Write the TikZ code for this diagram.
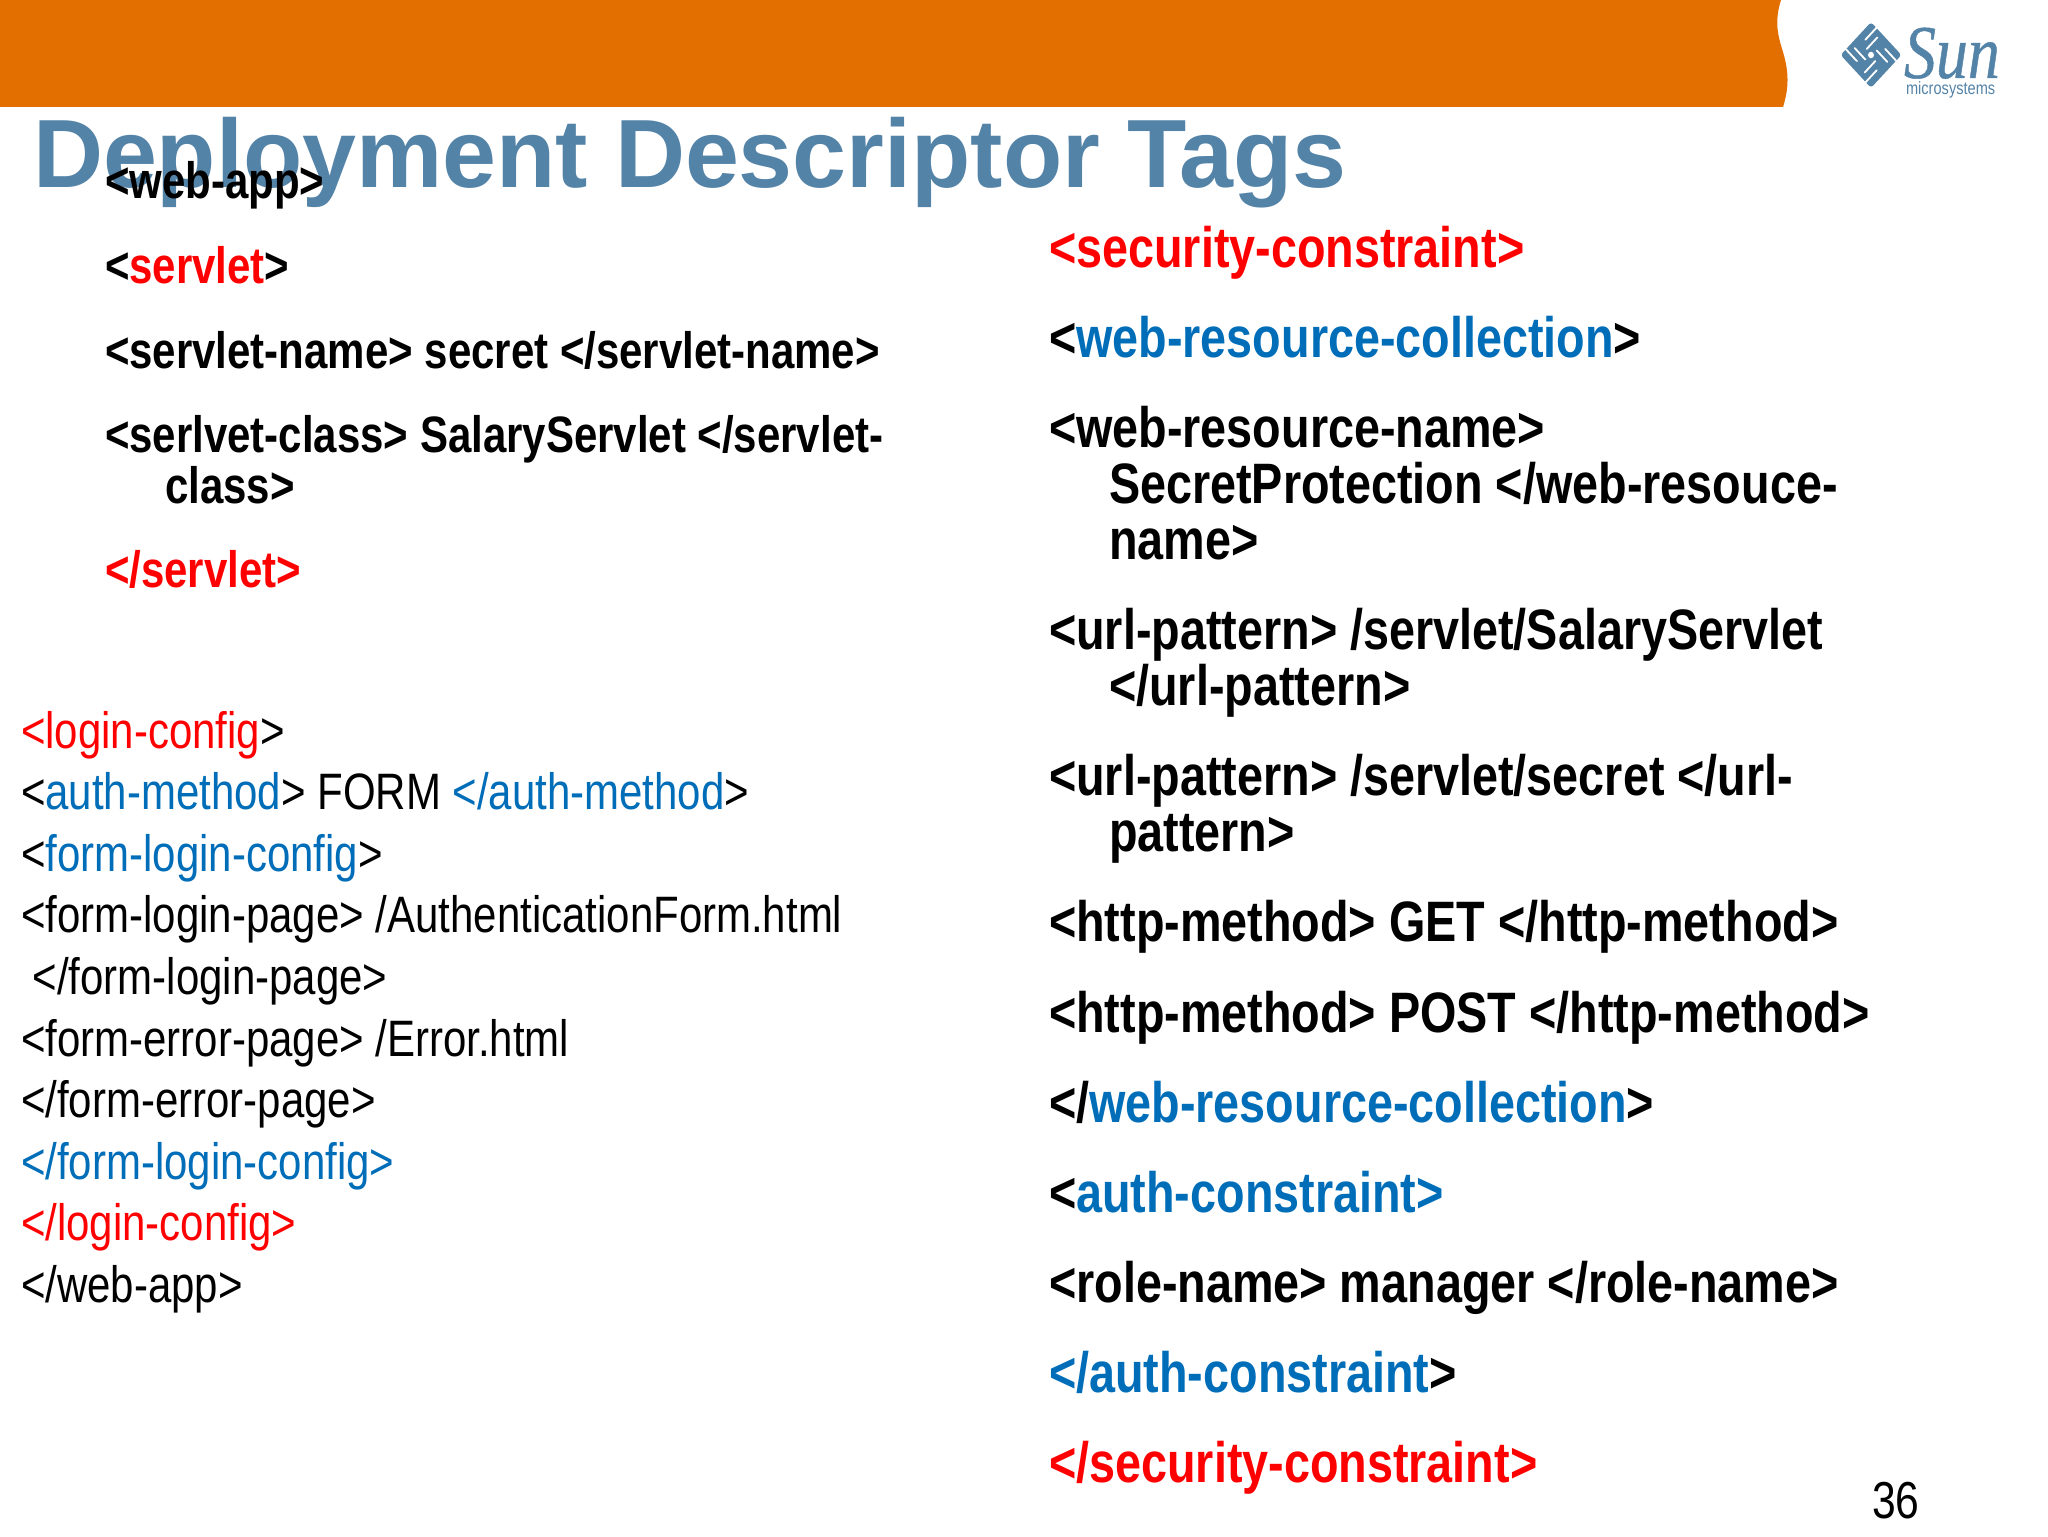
\documentclass[tikz,border=0pt]{standalone}
\usepackage{fontspec}
\setmainfont[FakeStretch=0.82]{Liberation Sans}
\newfontfamily\titlefont{Liberation Sans}
\newfontfamily\sunfont[FakeStretch=0.84,FakeBold=0.6]{Liberation Serif}
\definecolor{bandorange}{HTML}{E36F00}
\definecolor{titleblue}{HTML}{5483A8}
\definecolor{tagblue}{HTML}{006DB8}
\definecolor{tagred}{HTML}{FF0000}
\newcommand{\rd}[1]{\textcolor{tagred}{#1}}
\newcommand{\bl}[1]{\textcolor{tagblue}{#1}}
\tikzset{
  txt/.style={anchor=base west,inner sep=0pt,outer sep=0pt,text=black},
  leftb/.style={txt,font=\fontsize{25.6}{30}\selectfont\bfseries},
  rightb/.style={txt,font=\fontsize{28.5}{34}\selectfont\bfseries},
  loginr/.style={txt,font=\fontsize{25.6}{30}\selectfont},
  slit/.style={white,line width=.9pt,line cap=round}
}
\begin{document}
\begin{tikzpicture}[x=.5pt,y=-.5pt]
\useasboundingbox (0,0) rectangle (2048,1536);

% band and logo
\fill[bandorange] (0,0)--(1781,0) .. controls (1774,22) and (1778,36) .. (1783,52)
  .. controls (1789,72) and (1789,88) .. (1783,107)--(0,107)--cycle;
\begin{scope}[shift={(1871,55)},yscale=1.08,rotate=45]
\fill[titleblue,rounded corners=1.5pt] (-21.5,-21.5) rectangle (21.5,21.5);
\foreach \r in {0,90,180,270}
{
  \begin{scope}[rotate=\r]
  \draw[slit] (7,1)--(7,16);
  \draw[slit] (14,22)--(14,6);
  \end{scope}
}
\fill[white] (0,0) circle (1.5pt);
\end{scope}
\node (sunword) at (1904,78)[txt,text=titleblue,font=\fontsize{38}{38}\sunfont\itshape]{Sun};
\node (sunsub) at (1906,95)[txt,text=titleblue,font=\fontsize{8.9}{9}\selectfont]{microsystems};

% title
\node (heading) at (33,187)[txt,text=titleblue,font=\fontsize{48.5}{56}\titlefont\bfseries]{Deployment Descriptor Tags};

% servlet block
\node (webapp) at (105,198)[leftb]{<web-app>};
\node (servlet) at (105,283)[leftb]{<\rd{servlet}>};
\node (sname) at (105,368)[leftb]{<servlet-name> secret </servlet-name>};
\node (sclass) at (105,452)[leftb]{<serlvet-class> SalaryServlet </servlet-};
\node (sclassb) at (165,503)[leftb]{class>};
\node (servletend) at (105,587)[leftb]{\rd{</servlet>}};

% login block
\foreach \n/\ltext in {0/{\rd{<login-config}>},
  1/{<\bl{auth-method}> FORM \bl{</auth-method}>},
  2/{<\bl{form-login-config}>},
  3/{<form-login-page> /AuthenticationForm.html},
  4/{\ </form-login-page>},
  5/{<form-error-page> /Error.html},
  6/{</form-error-page>},
  7/{\bl{</form-login-config>}},
  8/{\rd{</login-config>}},
  9/{</web-app>}}
{
  \node (login\n) at (21,748+61.6*\n)[loginr]{\ltext};
}

% security block
\node (sec) at (1049,267.5)[rightb]{\rd{<security-constraint>}};
\node (coll) at (1049,357.5)[rightb]{<\bl{web-resource-collection}>};
\node (wname) at (1049,447.5)[rightb]{<web-resource-name>};
\node (wnameb) at (1109,503.5)[rightb]{SecretProtection </web-resouce-};
\node (wnamec) at (1109,559.5)[rightb]{name>};
\node (urla) at (1049,649.5)[rightb]{<url-pattern> /servlet/SalaryServlet};
\node (urlb) at (1109,705.5)[rightb]{</url-pattern>};
\node (urlc) at (1049,795.5)[rightb]{<url-pattern> /servlet/secret </url-};
\node (urld) at (1109,851.5)[rightb]{pattern>};
\node (httpa) at (1049,941.5)[rightb]{<http-method> GET </http-method>};
\node (httpb) at (1049,1032)[rightb]{<http-method> POST </http-method>};
\node (collend) at (1049,1122)[rightb]{</\bl{web-resource-collection}>};
\node (auth) at (1049,1212)[rightb]{<\bl{auth-constraint>}};
\node (role) at (1049,1302)[rightb]{<role-name> manager </role-name>};
\node (authend) at (1049,1392)[rightb]{\bl{</auth-constraint}>};
\node (secend) at (1049,1482)[rightb]{\rd{</security-constraint>}};

\node (pagenum) at (1872,1518)[txt,font=\fontsize{26}{30}\selectfont]{36};
\end{tikzpicture}
\end{document}
